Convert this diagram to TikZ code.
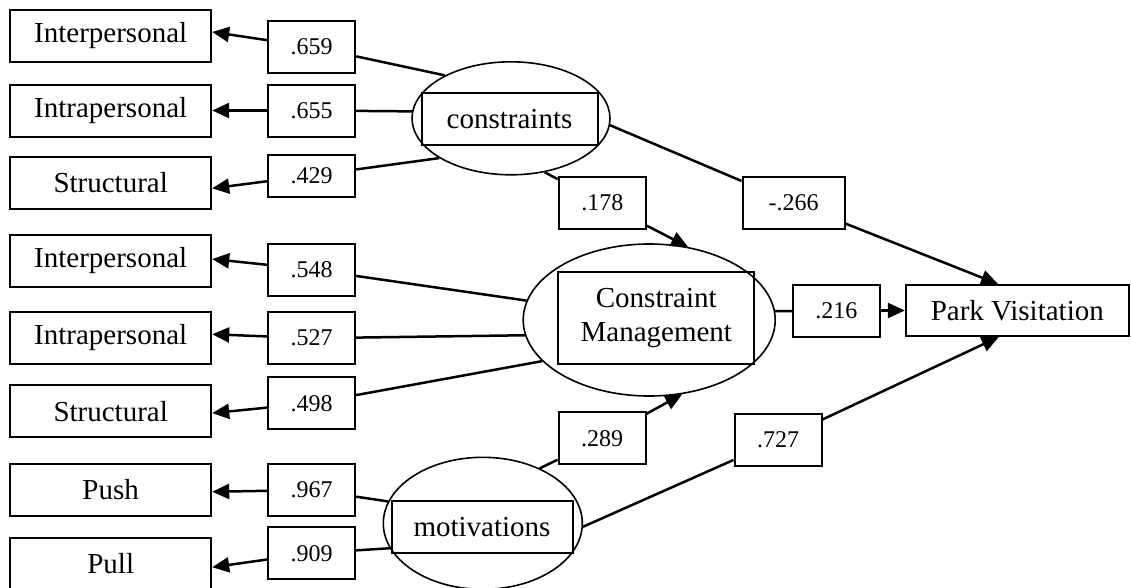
\documentclass[tikz,border=0pt]{standalone}
\usepackage{fontspec}
\setmainfont{Liberation Serif}
\usetikzlibrary{arrows.meta, shapes.geometric}

\begin{document}
\begin{tikzpicture}[
    x=1pt, y=-1pt,
    obsv/.style   = {draw, line width=2pt, rectangle, inner sep=0pt,
                     minimum width=201pt, minimum height=52pt,
                     font=\fontsize{29}{33.5}\selectfont},
    coef/.style   = {draw, line width=2pt, rectangle, fill=white, inner sep=0pt,
                     minimum width=87pt, minimum height=52pt,
                     font=\fontsize{24}{28}\selectfont},
    latv/.style   = {draw, line width=1.6pt, ellipse, inner sep=0pt},
    link/.style   = {line width=2.5pt},
    arr/.style    = {line width=2.5pt, -{Triangle[length=17pt,width=15pt]}}
    ]
      \useasboundingbox (0,0) rectangle (1131,587);

      % observed variables ---------------------------------------
      \node[obsv] (ip1)  at (110.7,35.5)  {Interpersonal};
      \node[obsv] (ia1)  at (110.7,110.5) {Intrapersonal};
      \node[obsv] (st1)  at (110.7,183)   {Structural};
      \node[obsv] (ip2)  at (110.7,260.8) {Interpersonal};
      \node[obsv] (ia2)  at (110.7,337.8) {Intrapersonal};
      \node[obsv] (st2)  at (110.7,411.3) {Structural};
      \node[obsv] (push) at (110.7,490)   {Push};
      \node[obsv] (pull) at (110.7,563.7) {Pull};

      % latent variables -----------------------------------------
      \node[latv, minimum width=198pt, minimum height=113pt] (cons) at (511,118.3) {};
      \node[obsv, minimum width=176pt] (consb) at (509.5,119.2) {constraints};
      \node[latv, minimum width=252pt, minimum height=152pt] (cm) at (649.2,320) {};
      \node[obsv, minimum width=196pt, minimum height=92pt, align=center] (cmb) at (656.3,317.8) {Constraint\\Management};
      \node[latv, minimum width=199pt, minimum height=132pt] (mot) at (482.8,523.3) {};
      \node[obsv, minimum width=181pt] (motb) at (482,526.7) {motivations};
      \node[obsv, minimum width=223pt, minimum height=51pt] (pv) at (1017.3,310.5) {Park Visitation};

      % coefficients ---------------------------------------------
      \node[coef] (l659) at (311.7,46.8)  {.659};
      \node[coef] (l655) at (311.7,110.5) {.655};
      \node[coef, minimum height=42pt] (l429) at (311.7,175.5) {.429};
      \node[coef] (l548) at (311.7,269.5) {.548};
      \node[coef] (l527) at (311.7,338.2) {.527};
      \node[coef] (l498) at (311.7,403.2) {.498};
      \node[coef] (l967) at (311.7,490)   {.967};
      \node[coef] (l909) at (311.7,553.2) {.909};
      \node[coef] (l178) at (602.3,202.8) {.178};
      \node[coef, minimum width=102pt] (l266) at (793.5,203) {-.266};
      \node[coef] (l216) at (836.3,310.5) {.216};
      \node[coef] (l289) at (602,438.3)   {.289};
      \node[coef] (l727) at (778,440.2)   {.727};

      % edges ----------------------------------------------------
      \draw[link] (cons.147) -- (l659);
      \draw[arr]  (l659) -- (ip1.2);
      \draw[link] (cons.176) -- (l655);
      \draw[arr]  (l655) -- (ia1.east);
      \draw[link] (cons.209) -- (l429);
      \draw[arr]  (l429) -- (st1.-3);

      \draw[link] (cm.171) -- (l548);
      \draw[arr]  (l548) -- (ip2.1);
      \draw[link] (cm.187) -- (l527);
      \draw[arr]  (l527) -- (ia2.2);
      \draw[link] (cm.201) -- (l498);
      \draw[arr]  (l498) -- (st2.-1);

      \draw[link] (mot.167.6) -- (l967);
      \draw[arr]  (l967) -- (push.-1);
      \draw[link] (mot.195.7) -- (l909);
      \draw[arr]  (l909) -- (pull.-2);

      \draw[link] (cons.302) -- (l178);
      \draw[arr]  (l178) -- (cm.62);
      \draw[link] (cons.356) -- (l266);
      \draw[arr]  (l266) -- (pv.126);
      \draw[link] (cm.4.3) -- (l216);
      \draw[arr]  (l216) -- (pv);
      \draw[link] (mot.44.7) -- (l289);
      \draw[arr]  (l289) -- (cm.294);
      \draw[link] (mot.358) -- (l727);
      \draw[arr]  (l727) -- (pv.235);
    \end{tikzpicture}
\end{document}
